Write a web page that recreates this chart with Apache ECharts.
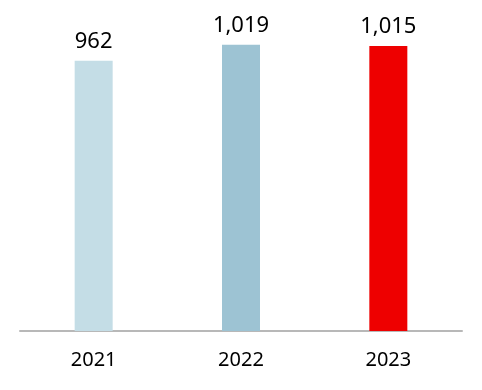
<!DOCTYPE html>
<html><head><meta charset="utf-8">
<script src="https://cdn.jsdelivr.net/npm/echarts@6/dist/echarts.min.js"></script>
<style>html,body{margin:0;padding:0;background:#fff}#c{width:482px;height:390px}</style>
</head><body><div id="c"></div>
<script>
const categories = ['2021', '2022', '2023'];
const values = [962, 1019, 1015];
const barColors = ['#c4dde6', '#9dc3d3', '#ee0000'];

const chart = echarts.init(document.getElementById('c'), null, {renderer: 'canvas'});
chart.setOption({
  animation: false,
  grid: {left: 20, right: 20, top: 22, bottom: 59, containLabel: false},
  xAxis: {
    type: 'category', data: categories,
    axisLine: {lineStyle: {color: '#b8b8b8', width: 2}},
    axisTick: {show: false},
    axisLabel: {color: '#000', fontSize: 20, fontFamily: 'Noto Sans', margin: 19}
  },
  yAxis: {type: 'value', min: 0, max: 1100, show: false, splitLine: {show: false}},
  series: [{
    type: 'bar', barWidth: 38,
    data: values.map((v, i) => ({value: v, itemStyle: {color: barColors[i]}})),
    label: {show: true, position: 'top', distance: 8, color: '#000', fontSize: 22, fontFamily: 'Noto Sans',
      formatter: p => p.value.toLocaleString('en-US')}
  }]
});
</script></body></html>
